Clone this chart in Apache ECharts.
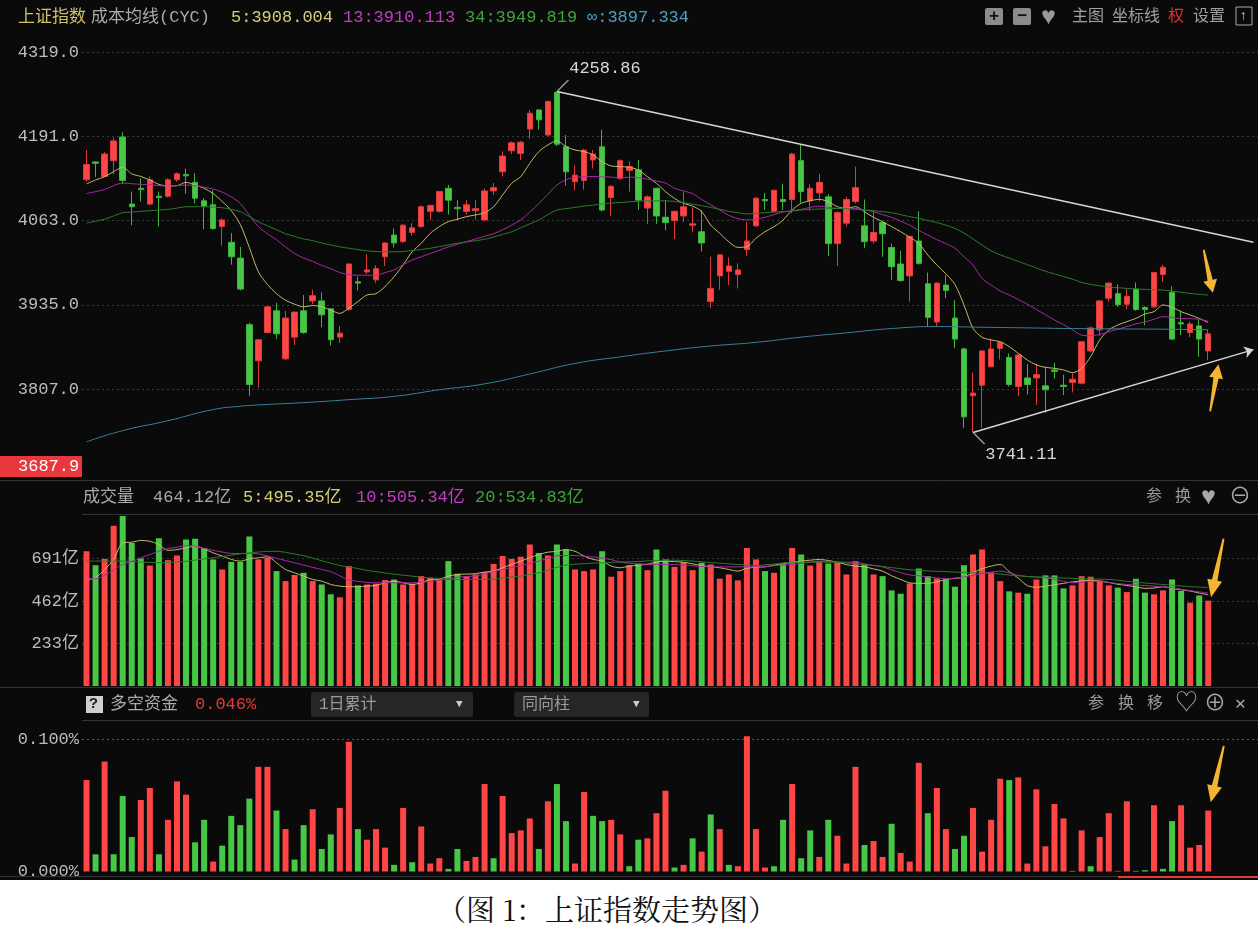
<!DOCTYPE html>
<html>
<head>
<meta charset="utf-8">
<script src="https://cdn.jsdelivr.net/npm/echarts@6/dist/echarts.min.js"></script>
<style>
html,body{margin:0;padding:0;background:#ffffff;width:1258px;height:933px;overflow:hidden;}
#chart{position:absolute;left:0;top:0;width:1258px;height:880px;background:#0a0a0a;}
#cap{position:absolute;left:0;top:880px;width:1258px;height:53px;background:#fff;}
#cap span{position:absolute;left:437px;top:12px;font-size:29px;line-height:34px;color:#111;font-family:'Noto Serif CJK SC','Noto Sans CJK SC',serif;white-space:pre;}
</style>
</head>
<body>
<div id="chart"></div>
<div id="cap"><span>（图 1：上证指数走势图）</span></div>
<script>
// ---------- data ----------
const openP = [4125,4152,4130,4154,4190,4088,4112,4088,4100,4100,
4125,4133,4121,4093,4087,4054,4030,4006,3905,3850,
3893,3926,3853,3886,3926,3941,3941,3929,3886,3928,
3970,3985,3973,4008,4041,4031,4045,4054,4077,4077,
4112,4083,4077,4078,4064,4108,4137,4169,4165,4202,
4231,4193,4258,4175,4122,4124,4155,4175,4098,4127,
4139,4140,4082,4112,4068,4063,4070,4056,4046,3940,
3979,3986,3981,4019,4055,4095,4077,4095,4095,4154,
4093,4105,4099,4028,4059,4092,4055,4032,4060,4022,
3997,3979,4032,3967,3909,3965,3915,3868,3797,3813,
3841,3869,3855,3811,3824,3824,3812,3836,3813,3817,
3816,3865,3897,3945,3952,3936,3959,3931,3932,3981,
3954,3908,3893,3903,3865];
const closeP = [4148,4150,4164,4184,4124,4084,4110,4125,4098,4125,
4134,4131,4097,4085,4051,4064,4008,3959,3814,3882,
3932,3891,3915,3924,3893,3949,3920,3882,3892,3997,
3968,3988,3990,4029,4029,4056,4052,4084,4086,4107,
4094,4081,4087,4081,4108,4113,4161,4181,4182,4226,
4216,4244,4179,4137,4132,4170,4164,4079,4115,4154,
4145,4094,4099,4070,4060,4077,4084,4058,4029,3960,
4011,3994,3988,4032,4097,4093,4109,4092,4164,4107,
4112,4121,4028,4075,4095,4113,4031,4045,4043,3993,
3972,4039,3998,3916,3968,3957,3883,3765,3801,3865,
3868,3878,3814,3859,3814,3829,3806,3834,3811,3822,
3879,3900,3941,3968,3935,3948,3928,3928,3984,3992,
3883,3906,3906,3883,3891];
const lowP = [4122,4129,4129,4133,4118,4056,4092,4087,4054,4098,
4122,4104,4089,4050,4049,4025,3996,3957,3797,3809,
3892,3883,3851,3874,3891,3936,3901,3873,3877,3926,
3957,3982,3968,3994,4022,4029,4040,4052,4064,4075,
4072,4064,4072,4064,4062,4102,4130,4164,4155,4187,
4201,4191,4176,4116,4109,4110,4142,4077,4070,4125,
4107,4079,4058,4058,4048,4035,4061,4045,4016,3930,
3958,3965,3960,4009,4053,4079,4075,4079,4074,4090,
4078,4092,4009,3994,4054,4089,4021,4028,4008,3973,
3970,3940,3996,3902,3902,3945,3869,3748,3741.11,3748,
3840,3852,3811,3796,3799,3783,3771,3823,3798,3802,
3814,3863,3888,3940,3932,3928,3926,3904,3930,3970,
3882,3889,3886,3856,3851];
const highP = [4170,4153,4167,4189,4197,4107,4127,4130,4107,4127,
4136,4142,4135,4097,4109,4066,4044,4023,3908,3882,
3933,3938,3926,3925,3950,3958,3954,3930,3903,3998,
3978,4012,3995,4030,4051,4058,4059,4086,4087,4108,
4117,4094,4094,4094,4112,4120,4168,4183,4184,4231,
4232,4245,4258.86,4193,4147,4172,4170,4201,4117,4156,
4153,4155,4101,4113,4094,4078,4107,4083,4079,4008,
4012,4007,3998,4061,4099,4105,4110,4119,4166,4178,
4118,4134,4103,4077,4099,4145,4095,4077,4062,4028,
4017,4040,4077,3984,3969,3980,3942,3870,3832,3866,
3884,3879,3861,3860,3845,3846,3841,3847,3829,3831,
3880,3902,3942,3969,3966,3959,3969,3933,3985,3996,
3963,3926,3910,3912,3897];

// cost moving averages (CYC)
const ma5 = [4118.6,4124.6,4129.7,4137.3,4143.9,4134,4130,4124.6,4118,4115.5,
4116,4121,4117,4112,4104,4092,4078,4057,4022,3985,
3966,3952,3942,3936,3932,3934,3932,3927,3922,3930,
3940,3950,3952,3962.7,3977.8,3995.6,4015.8,4028.5,4043.6,4053.8,
4061.4,4064.9,4069,4071.5,4075,4084,4102,4119.6,4129.7,4150,
4167.7,4177.8,4183.9,4175.3,4170.2,4167.7,4162.6,4152.5,4145.9,4145,
4143.9,4139.8,4129.7,4119.6,4106.9,4096.7,4089.1,4085.1,4076.5,4056.2,
4043.6,4030.9,4022.3,4023.3,4036,4046.1,4053.7,4063.8,4079,4089.1,
4093.2,4095.2,4091.7,4084.1,4081.5,4084.1,4076.5,4067.9,4061.3,4053.7,
4046.1,4037.5,4028.4,4010.7,3995.5,3982,3966,3934.8,3899.3,3885.7,
3881.6,3879.1,3871.5,3861.4,3851.3,3843.7,3840.1,3838.6,3836.1,3832,
3838.6,3856.3,3881.6,3896.8,3904.4,3909.5,3914.5,3921.1,3924.7,3934.8,
3931.2,3924.7,3919.6,3914.5,3908.0];
const ma13 = [4104,4107,4110,4116,4120,4119,4118,4117.5,4116,4115.5,
4116,4117,4116,4113.5,4111,4106,4099,4089,4071,4054,
4043,4034,4023,4013,4006,4001,3995,3990,3984,3981,
3980,3980,3980,3984,3988,3996,4003,4008,4013,4018,
4023,4027,4031,4035,4039,4043,4049,4056,4064,4076,
4089,4103,4117,4125,4128.5,4129.5,4130,4129.5,4129,4127.5,
4129,4128,4126,4123,4120,4112,4108,4104,4095,4087,
4079,4071,4066,4064,4065,4068,4072,4076,4078,4080,
4083,4085,4083,4081.5,4081.5,4081.5,4079,4076.5,4072,4068,
4062,4056,4048,4041,4034,4028,4021,4008,3995.5,3975,
3965,3956,3950,3943,3936,3928,3920,3912,3905,3897,
3889,3888,3890,3894,3898,3902,3906,3909,3913,3917,
3916,3914,3914,3913,3910.1];
const ma34 = [4059,4062,4065,4070,4075,4076,4077,4078,4079,4080,
4082,4084,4084,4084,4083.5,4082.5,4080,4076.5,4069,4061,
4055,4049,4043,4039,4035,4032.5,4029,4026,4023,4021,
4019,4017,4016,4015.5,4015.5,4016,4017.5,4019,4021,4023.5,
4026,4028.5,4030.5,4032.5,4034.5,4038,4042,4046,4052,4058,
4064,4072,4079,4081,4083,4085,4086.5,4088,4089.5,4090.5,
4091.5,4092.5,4093,4093,4093,4092,4090,4088,4085.5,4083,
4080,4077,4075,4073,4074,4075,4076,4076.5,4077.5,4079,
4080,4080.5,4081,4081.5,4081,4080,4079,4078,4076.5,4075,
4072,4069,4066.5,4063,4060,4056,4051,4044,4035,4026,
4017,4011,4006,4001,3996,3991,3986,3982,3978,3974,
3969,3966,3964,3962,3961,3960,3959,3958.5,3958,3957.5,
3956,3954,3952.5,3951,3949.8];
// infinite cost line, read at these candle positions (0-based)
const infIdx = [0,4,9,14,17,19,24,29,34,39,44,49,54,59,64,69,74,79,84,89,94,99,104,109,114,119,124];
const infVal = [3727,3744,3759,3776,3781,3783,3786.5,3791,3796,3806,3815,3830,3846,3856,3865,3872.5,3878,3886,3892.5,3899,3902,3901,3900,3899,3898.5,3898,3897.3];

// volume (亿)
const volume = [730,655,689,868,927,775,691,653,800,682,
707,793,797,748,686,632,673,673,809,686,
695,623,569,602,614,569,551,498,482,650,
546,551,555,575,578,551,555,596,587,582,
677,609,596,605,618,662,704,689,700,766,
721,707,766,739,632,623,632,730,593,623,
655,663,628,739,686,646,671,628,668,659,
582,605,573,748,686,623,614,668,748,712,
653,677,664,668,605,677,659,605,596,519,
501,557,637,596,584,578,539,655,712,739,
618,569,514,507,501,578,600,600,530,546,
596,593,573,546,534,510,582,507,498,519,
578,516,453,492,464];
const volMa5 = [578,587,632,686,775,779,788,784,766,735,
739,748,757,743,721,704,686,677,689,695,
700,668,632,614,596,578,569,551,542,539,
539,542,546,560,569,560,551,560,578,580,
596,605,607,609,618,623,641,659,677,695,
712,725,730,739,730,704,686,677,650,641,
650,655,660,672,677,674,671,662,653,647,
641,632,623,638,644,646,655,664,670,677,
682,686,680,671,658,650,646,635,623,598,
578,560,557,557,565,578,584,590,615,636,
650,659,620,585,545,536,542,550,557,565,
570,575,568,562,552,546,538,530,532,539,
530,522,516,505,495];
const volMa10 = [582,582,600,630,659,675,695,712,730,745,
752,760,758,745,735,726,718,718,718,716,
705,692,680,668,655,643,632,620,598,575,
568,562,560,560,560,560,560,563,567,575,
582,590,594,597,608,620,632,643,653,665,
677,692,705,707,707,703,699,693,685,672,
666,662,660,659,659,659,656,652,648,646,
646,646,646,646,646,648,652,656,659,665,
672,677,675,673,671,671,662,654,646,630,
615,602,598,592,586,582,585,592,600,610,
617,623,614,600,594,590,587,578,568,560,
564,567,569,562,556,551,548,545,542,539,
533,525,518,511,505];
const volMa20 = [677,677,677,677,677,675,672,670,668,669,
672,676,682,689,695,702,709,716,722,726,
729,730,724,715,706,693,679,666,653,645,
637,627,620,613,607,601,596,590,586,582,
579,578,578,578,579,580,585,591,596,605,
614,628,643,656,660,663,666,668,670,672,
673,675,678,680,681,682,680,677,673,669,
666,662,659,656,653,657,661,665,669,671,
671,671,671,671,667,662,658,654,648,642,
636,630,627,624,622,620,618,616,614,612,
611,607,602,598,594,592,590,588,586,584,
583,581,580,578,574,568,563,559,555,551,
547,543,539,537,535];

// 多空资金 (%), and whether the bar is red (1) or green (0)
const flow = [0.069,0.013,0.083,0.013,0.057,0.026,0.054,0.063,0.013,0.039,
0.068,0.058,0.022,0.039,0.0075,0.0195,0.042,0.035,0.055,0.079,
0.079,0.046,0.032,0.009,0.035,0.047,0.017,0.028,0.048,0.098,
0.032,0.024,0.032,0.018,0.005,0.048,0.007,0.034,0.006,0.010,
0.002,0.017,0.008,0.011,0.066,0.010,0.057,0.029,0.031,0.040,
0.017,0.053,0.066,0.038,0.006,0.060,0.042,0.038,0.039,0.028,
0.004,0.024,0.025,0.044,0.061,0.003,0.005,0.025,0.015,0.043,
0.032,0.005,0.004,0.102,0.032,0.003,0.004,0.039,0.066,0.010,
0.031,0.011,0.039,0.027,0.006,0.079,0.020,0.023,0.011,0.036,
0.014,0.0075,0.082,0.044,0.063,0.032,0.017,0.027,0.048,0.015,
0.039,0.070,0.069,0.071,0.006,0.062,0.019,0.051,0.040,0.0005,
0.031,0.004,0.026,0.044,0.0005,0.053,0.0005,0.001,0.050,0.002,
0.038,0.050,0.018,0.020,0.046];
const flowRed = [1,0,1,0,0,0,1,1,0,1,
1,1,0,0,1,0,0,0,0,1,
1,0,1,0,0,1,0,0,1,1,
0,1,1,1,0,1,0,1,1,1,
0,0,1,1,1,0,1,1,1,1,
0,1,0,0,1,1,0,0,1,1,
0,0,1,1,1,0,1,0,1,0,
1,0,1,1,1,1,0,0,1,0,
0,1,0,1,1,1,0,1,1,0,
1,1,1,0,1,1,0,0,1,1,
1,1,0,1,1,1,1,1,1,0,
1,0,1,1,1,1,0,0,1,0,
0,1,1,1,1];

// axis ticks
const priceTicks = {min: 3679, max: 4319, step: 128};
const volTicks = {min: 4, max: 920, step: 229};
const flowTicks = {min: 0, max: 0.1, step: 0.1};
const lastLowLabel = '3687.9';

// annotations (data coordinates: 1-based slot, value)
const trendHigh = [53, 4258.86, 130, 4030];
const trendLow = [99, 3741.11, 130, 3867];
const arrowMainDown = [125, 3986];
const arrowMainUp = [126, 3809];
const arrowVol = [126, 640];
const arrowFlow = [126, 0.0735];

// ---------- build ----------
const SLOTS = 130;
const days = Array.from({length: SLOTS}, (_, i) => String(i + 1));
const RED = '#ff4646', GREEN = '#46c846';
const candleData = openP.map((o, i) => [o, closeP[i], lowP[i], highP[i]]);
const volData = volume.map((v, i) => ({value: v, itemStyle: {color: closeP[i] >= openP[i] ? RED : GREEN}}));
const flowData = flow.map((v, i) => ({value: v, itemStyle: {color: flowRed[i] ? RED : GREEN}}));
const infData = openP.map(() => null);
infIdx.forEach((k, j) => { infData[k] = infVal[j]; });

const MONO = "'Liberation Mono','Noto Sans CJK SC',monospace";
const GRIDC = '#3a3a3a';
const TR = 'rgba(0,0,0,0)';
const ARROW_DOWN = 'path://M7,0 L9,0 L11,34 L16,34 L8,48 L0,34 L5,34 Z';
const ARROW_UP = 'path://M8,0 L16,14 L11,14 L9,48 L7,48 L5,14 L0,14 Z';
const ORANGE = '#f6b433';

function xAx(g) {
  return {type: 'category', gridIndex: g, data: days, boundaryGap: true, show: false};
}
function lineS(data, color, xi, yi, extra) {
  return Object.assign({type: 'line', data: data, xAxisIndex: xi, yAxisIndex: yi, showSymbol: false,
    symbol: 'none', smooth: 0.3, lineStyle: {color: color, width: 1}, itemStyle: {color: color}, z: 5, silent: true}, extra || {});
}
function txt(x, y, s, color, size, extra) {
  return Object.assign({type: 'text', x: x, y: y, silent: true,
    style: {text: s, fill: color, font: (size || 17) + 'px ' + MONO, verticalAlign: 'middle', align: 'left'}}, extra || {});
}
function hline(y, x1, x2) {
  return {type: 'line', silent: true, shape: {x1: x1, y1: y, x2: x2, y2: y}, style: {stroke: '#333', lineWidth: 1}};
}

const chart = echarts.init(document.getElementById('chart'), null, {width: 1258, height: 880});
const option = {
  animation: false,
  backgroundColor: 'transparent',
  grid: [
    {left: 82, right: 0, top: 52, height: (priceTicks.max - priceTicks.min) / 1.5187},
    {left: 82, right: 0, top: 516, height: 170},
    {left: 82, right: 0, top: 739, height: 137}
  ],
  xAxis: [xAx(0), xAx(1), xAx(2)],
  yAxis: [
    {type: 'value', gridIndex: 0, min: priceTicks.min, max: priceTicks.max, interval: priceTicks.step,
      axisLine: {show: false}, axisTick: {show: false},
      axisLabel: {showMinLabel: false, color: '#bdbdbd', fontSize: 17, fontFamily: MONO, margin: 3,
        formatter: v => v.toFixed(1)},
      splitLine: {lineStyle: {color: [TR, GRIDC, GRIDC, GRIDC, GRIDC, GRIDC], type: [2, 3], width: 1}}},
    {type: 'value', gridIndex: 1, min: volTicks.min, max: volTicks.max, interval: volTicks.step,
      axisLine: {show: false}, axisTick: {show: false},
      axisLabel: {showMinLabel: false, showMaxLabel: false, color: '#bdbdbd', fontSize: 17, fontFamily: MONO, margin: 3,
        formatter: v => Math.round(v) + '亿'},
      splitLine: {lineStyle: {color: [TR, GRIDC, GRIDC, GRIDC, TR], type: [2, 3], width: 1}}},
    {type: 'value', gridIndex: 2, min: flowTicks.min, max: flowTicks.max, interval: flowTicks.step,
      axisLine: {show: false}, axisTick: {show: false},
      axisLabel: {color: '#bdbdbd', fontSize: 17, fontFamily: MONO, margin: 3,
        formatter: v => v.toFixed(3) + '%'},
      splitLine: {lineStyle: {color: [TR, '#5a5a5a'], type: [2, 3], width: 1}}}
  ],
  series: [
    {type: 'candlestick', xAxisIndex: 0, yAxisIndex: 0, data: candleData, barWidth: 6, z: 3, silent: true,
      itemStyle: {color: RED, color0: GREEN, borderColor: '#e03b3b', borderColor0: '#3fb53f', borderWidth: 1},
      markLine: {silent: true, symbol: ['none', 'none'], animation: false,
        lineStyle: {color: '#d6d6d6', width: 1.5, type: 'solid'}, label: {show: false},
        data: [
          [{coord: [days[trendHigh[0] - 1], trendHigh[1]], symbol: 'none'},
           {coord: [days[trendHigh[2] - 1], trendHigh[3]], symbol: 'none'}],
          [{coord: [days[trendLow[0] - 1], trendLow[1]], symbol: 'none'},
           {coord: [days[trendLow[2] - 1], trendLow[3]], symbol: 'arrow', symbolSize: 9}]
        ]},
      markPoint: {silent: true, animation: false,
        data: [
          {coord: [days[trendHigh[0] - 1], trendHigh[1]], symbol: 'path://M0,11 L11,0 L12,1 L1,12 Z',
            symbolSize: [12, 12], symbolOffset: [6, -6], itemStyle: {color: '#9a9a9a'},
            label: {show: true, formatter: String(trendHigh[1]), color: '#d8d8d8', fontSize: 17, fontFamily: MONO, offset: [42, -17]}},
          {coord: [days[trendLow[0] - 1], trendLow[1]], symbol: 'path://M1,0 L12,11 L11,12 L0,1 Z',
            symbolSize: [12, 12], symbolOffset: [6, 6], itemStyle: {color: '#9a9a9a'},
            label: {show: true, formatter: trendLow[1].toFixed(2), color: '#d8d8d8', fontSize: 17, fontFamily: MONO, offset: [42, 16]}},
          {coord: [days[arrowMainDown[0] - 1], arrowMainDown[1]], symbol: ARROW_DOWN, symbolSize: [14, 44],
            symbolRotate: 12, itemStyle: {color: ORANGE}, label: {show: false}},
          {coord: [days[arrowMainUp[0] - 1], arrowMainUp[1]], symbol: ARROW_UP, symbolSize: [14, 48],
            symbolRotate: -10, symbolOffset: [-3, 0], itemStyle: {color: ORANGE}, label: {show: false}}
        ]}},
    lineS(ma5, '#c2ba6c', 0, 0),
    lineS(ma13, '#a72aa7', 0, 0),
    lineS(ma34, '#2b7d2b', 0, 0),
    lineS(infData, '#3b7f98', 0, 0, {connectNulls: true, smooth: 0.5}),
    {type: 'bar', xAxisIndex: 1, yAxisIndex: 1, data: volData, barWidth: 6, silent: true, z: 2,
      markPoint: {silent: true, animation: false, data: [
        {coord: [days[arrowVol[0] - 1], arrowVol[1]], symbol: ARROW_DOWN, symbolSize: [15, 60],
          symbolRotate: -12, itemStyle: {color: ORANGE}, label: {show: false}}]}},
    lineS(volMa5, '#c2ba6c', 1, 1),
    lineS(volMa10, '#a72aa7', 1, 1),
    lineS(volMa20, '#2b7d2b', 1, 1),
    {type: 'bar', xAxisIndex: 2, yAxisIndex: 2, data: flowData, barWidth: 6, silent: true, clip: false, z: 2,
      markPoint: {silent: true, animation: false, data: [
        {coord: [days[arrowFlow[0] - 1], arrowFlow[1]], symbol: ARROW_DOWN, symbolSize: [15, 58],
          symbolRotate: -13, itemStyle: {color: ORANGE}, label: {show: false}}]}}
  ],
  graphic: [
    hline(480.5, 0, 1258), hline(514.5, 82, 1258), hline(687.5, 0, 1258), hline(720.5, 82, 1258),
    // header main
    txt(18, 17, '上证指数', '#cfc06a'),
    txt(91, 17, '成本均线(CYC)', '#aaaaaa'),
    txt(231, 17, '5:3908.004', '#d6cf7e'),
    txt(343, 17, '13:3910.113', '#c63bc6'),
    txt(465, 17, '34:3949.819', '#3da53d'),
    txt(587, 17, '∞:3897.334', '#4a9fc6'),
    {type: 'rect', shape: {x: 985, y: 8, width: 18, height: 17, r: 2}, style: {fill: '#8c8c8c'}, silent: true},
    {type: 'text', x: 989, y: 16.5, silent: true, style: {text: '+', fill: '#111', font: 'bold 17px ' + MONO, verticalAlign: 'middle'}},
    {type: 'rect', shape: {x: 1013, y: 8, width: 18, height: 17, r: 2}, style: {fill: '#8c8c8c'}, silent: true},
    {type: 'text', x: 1017, y: 16.5, silent: true, style: {text: '−', fill: '#111', font: 'bold 17px ' + MONO, verticalAlign: 'middle'}},
    txt(1041, 17, '♥', '#9a9a9a', 25),
    txt(1072, 17, '主图', '#a0a0a0', 16),
    txt(1112, 17, '坐标线', '#a0a0a0', 16),
    txt(1168, 17, '权', '#e03232', 16),
    txt(1193, 17, '设置', '#a0a0a0', 16),
    {type: 'rect', shape: {x: 1236, y: 7, width: 16, height: 18}, style: {fill: 'none', stroke: '#aaa', lineWidth: 1}, silent: true},
    txt(1239, 16, '↑', '#cccccc', 14),
    // low price box
    {type: 'rect', shape: {x: 0, y: 456, width: 82, height: 21}, style: {fill: '#e8383d'}, silent: true},
    txt(18, 466.5, lastLowLabel, '#ffffff'),
    // volume header
    txt(83, 497, '成交量', '#aaaaaa'),
    txt(153, 497, '464.12亿', '#aaaaaa'),
    txt(243, 497, '5:495.35亿', '#d6cf7e'),
    txt(356, 497, '10:505.34亿', '#c63bc6'),
    txt(475, 497, '20:534.83亿', '#3da53d'),
    txt(1146, 497, '参', '#9a9a9a', 16),
    txt(1175, 497, '换', '#9a9a9a', 16),
    txt(1201, 497, '♥', '#a8a8a8', 25),
    txt(1229, 497, '⊖', '#a8a8a8', 22),
    // flow header
    {type: 'rect', shape: {x: 86, y: 696, width: 17, height: 17}, style: {fill: '#cfcfcf'}, silent: true},
    {type: 'text', x: 89, y: 704.5, silent: true, style: {text: '?', fill: '#222', font: 'bold 15px ' + MONO, verticalAlign: 'middle'}},
    txt(110, 704, '多空资金', '#aaaaaa'),
    txt(195, 704, '0.046%', '#e03c3c'),
    {type: 'rect', shape: {x: 311, y: 692, width: 162, height: 25, r: 3}, style: {fill: '#262626'}, silent: true},
    txt(319, 704.5, '1日累计', '#9a9a9a', 16),
    txt(456, 704.5, '▼', '#cccccc', 11),
    {type: 'rect', shape: {x: 514, y: 692, width: 135, height: 25, r: 3}, style: {fill: '#262626'}, silent: true},
    txt(522, 704.5, '同向柱', '#9a9a9a', 16),
    txt(633, 704.5, '▼', '#cccccc', 11),
    txt(1088, 704, '参', '#9a9a9a', 16),
    txt(1118, 704, '换', '#9a9a9a', 16),
    txt(1147, 704, '移', '#9a9a9a', 16),
    txt(1175, 704, '♡', '#a8a8a8', 23),
    txt(1204, 704, '⊕', '#a8a8a8', 22),
    txt(1235, 704, '✕', '#a8a8a8', 18),
    // bottom edge of the flow panel
    {type: 'rect', shape: {x: 0, y: 876.5, width: 1258, height: 4}, style: {fill: '#0a0a0a'}, silent: true, z: 100},
    {type: 'line', shape: {x1: 0, y1: 876.5, x2: 1258, y2: 876.5}, style: {stroke: '#333', lineWidth: 1}, silent: true, z: 101},
    {type: 'rect', shape: {x: 1118, y: 876, width: 140, height: 2}, style: {fill: '#e83a3a'}, silent: true, z: 102}
  ]
};
chart.setOption(option);
</script>
</body>
</html>
